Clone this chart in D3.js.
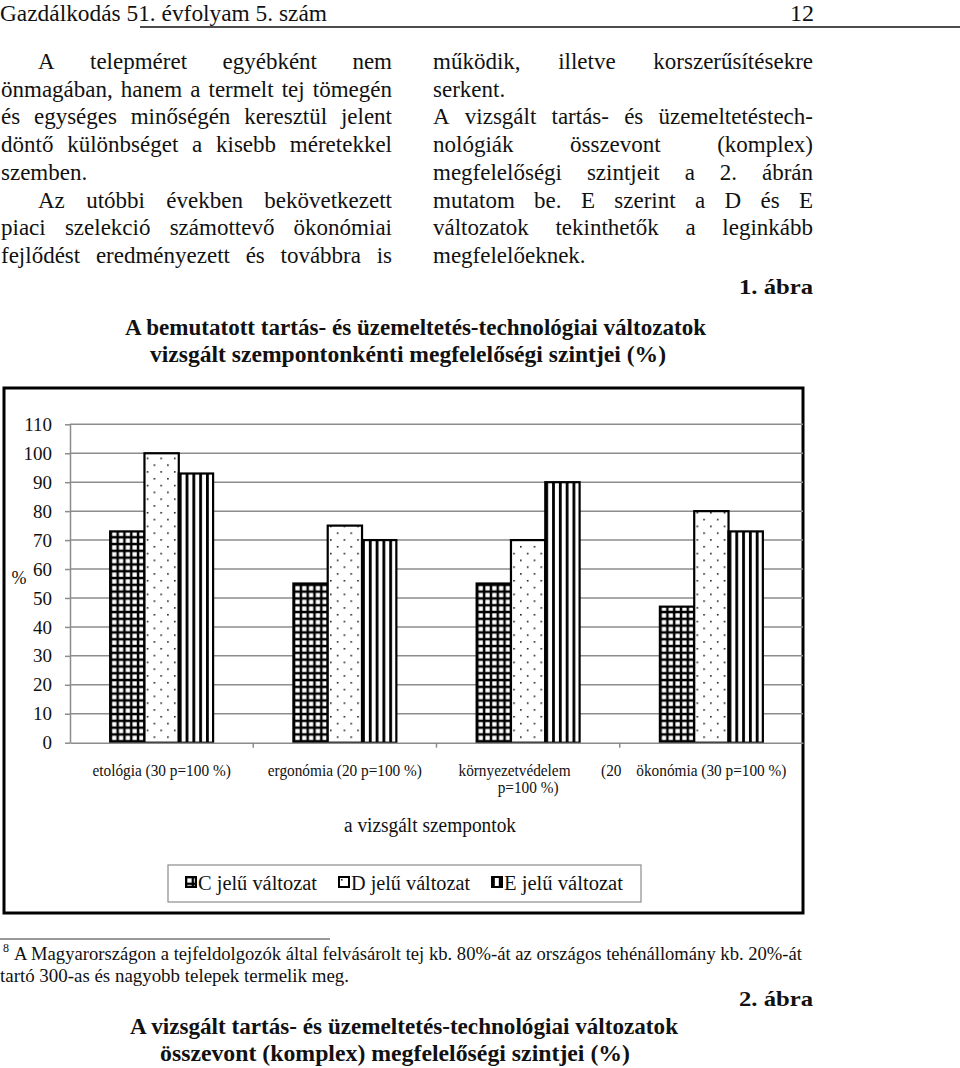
<!DOCTYPE html>
<html><head><meta charset="utf-8">
<script src="https://cdn.jsdelivr.net/npm/d3@7"></script>
<style>
body{margin:0;background:#fff}
svg{display:block}
text{font-family:"Liberation Serif","Times New Roman",serif;fill:#111}
</style>
</head><body>
<svg id="c" width="960" height="1068"></svg>
<script>
// ---------- data ----------
const categories = ["etológia (30 p=100 %)", "ergonómia (20 p=100 %)", "környezetvédelem (20 p=100 %)", "ökonómia (30 p=100 %)"];
const seriesNames = ["C jelű változat", "D jelű változat", "E jelű változat"];
const valuesC = [73, 55, 55, 47];
const valuesD = [100, 75, 70, 80];
const valuesE = [93, 70, 90, 73];
const yTicks = [0, 10, 20, 30, 40, 50, 60, 70, 80, 90, 100, 110];
const yLabel = "%";
const xTitle = "a vizsgált szempontok";
const chartTitle = ["A bemutatott tartás- és üzemeltetés-technológiai változatok", "vizsgált szempontonkénti megfelelőségi szintjei (%)"];

// ---------- page text ----------
const headerText = "Gazdálkodás 51. évfolyam 5. szám";
const pageNo = "12";
const leftCol = [
  ["A telepméret egyébként nem", 1, 1],
  ["önmagában, hanem a termelt tej tömegén", 0, 1],
  ["és egységes minőségén keresztül jelent", 0, 1],
  ["döntő különbséget a kisebb méretekkel", 0, 1],
  ["szemben.", 0, 0],
  ["Az utóbbi években bekövetkezett", 1, 1],
  ["piaci szelekció számottevő ökonómiai", 0, 1],
  ["fejlődést eredményezett és továbbra is", 0, 1]
];
const rightCol = [
  ["működik, illetve korszerűsítésekre", 0, 1],
  ["serkent.", 0, 0],
  ["A vizsgált tartás- és üzemeltetéstech-", 0, 1],
  ["nológiák összevont (komplex)", 0, 1],
  ["megfelelőségi szintjeit a 2. ábrán", 0, 1],
  ["mutatom be. E szerint a D és E", 0, 1],
  ["változatok tekinthetők a leginkább", 0, 1],
  ["megfelelőeknek.", 0, 0]
];
const fig1 = "1. ábra";
const fig2 = "2. ábra";
const footnoteMark = "8";
const footnote = ["A Magyarországon a tejfeldolgozók által felvásárolt tej kb. 80%-át az országos tehénállomány kb. 20%-át", "tartó 300-as és nagyobb telepek termelik meg."];
const title2 = ["A vizsgált tartás- és üzemeltetés-technológiai változatok", "összevont (komplex) megfelelőségi szintjei (%)"];

// ---------- helpers ----------
const svg = d3.select("#c");
const defs = svg.append("defs");

function fitText(g, str, x, y, w, size, opts = {}) {
  const anchor = opts.anchor || "start";
  let xs = x;
  if (anchor === "middle") xs = x - w / 2;
  if (anchor === "end") xs = x - w;
  return g.append("text").attr("x", xs).attr("y", y)
    .attr("font-size", size).attr("font-weight", opts.bold ? "bold" : "normal")
    .attr("textLength", w).attr("lengthAdjust", "spacingAndGlyphs").text(str);
}

function line(g, str, xL, xR, y, size, justify, bold) {
  const words = str.split(" ");
  const tmp = g.append("text").attr("font-size", size).attr("font-weight", bold ? "bold" : "normal");
  const widths = words.map(w => { tmp.text(w); return tmp.node().getComputedTextLength(); });
  tmp.remove();
  const sp = size * 0.25;
  const total = d3.sum(widths);
  const n = words.length;
  let scale = 1;
  const minGap = sp * 0.7;
  if (total + (n - 1) * minGap > xR - xL) scale = (xR - xL - (n - 1) * minGap) / total;
  let gap = sp;
  if (justify && n > 1) gap = (xR - xL - total * scale) / (n - 1);
  let x = xL;
  words.forEach((w, i) => {
    const t = g.append("text").attr("x", x).attr("y", y).attr("font-size", size)
      .attr("font-weight", bold ? "bold" : "normal").text(w);
    if (scale < 1) t.attr("textLength", widths[i] * scale).attr("lengthAdjust", "spacingAndGlyphs");
    x += widths[i] * scale + gap;
  });
}

// ---------- page header & body ----------
const page = svg.append("g");
fitText(page, headerText, 0, 21, 327, 24);
page.append("text").attr("x", 814).attr("y", 21).attr("font-size", 24).attr("text-anchor", "end").text(pageNo);
page.append("line").attr("x1", 140).attr("x2", 960).attr("y1", 27).attr("y2", 27).attr("stroke", "#111").attr("stroke-width", 1.6);

const bodySize = 23, lh = 27.7, y0 = 69;
leftCol.forEach((d, i) => line(page, d[0], d[1] ? 38 : 1, 392, y0 + i * lh, bodySize, d[2]));
rightCol.forEach((d, i) => line(page, d[0], 433, 813, y0 + i * lh, bodySize, d[2]));

fitText(page, fig1, 813, 294, 74, 22, { anchor: "end", bold: true });
fitText(page, chartTitle[0], 125, 335, 581, 24, { bold: true });
fitText(page, chartTitle[1], 150, 362, 516, 24, { bold: true });

// ---------- patterns ----------
const P = 6.8;
const pC = defs.append("pattern").attr("id", "pC").attr("patternUnits", "userSpaceOnUse").attr("width", P).attr("height", P);
pC.append("rect").attr("width", P).attr("height", P).attr("fill", "#000");
pC.append("rect").attr("x", 1.3).attr("y", 1.3).attr("width", P - 2.5).attr("height", P - 2.5).attr("fill", "#fff");
const pD = defs.append("pattern").attr("id", "pD").attr("patternUnits", "userSpaceOnUse").attr("width", 2 * P).attr("height", 2 * P);
pD.append("rect").attr("width", 2 * P).attr("height", 2 * P).attr("fill", "#fff");
pD.append("rect").attr("x", 2).attr("y", 2).attr("width", 1.5).attr("height", 1.5).attr("fill", "#000");
pD.append("rect").attr("x", 2 + P).attr("y", 2 + P).attr("width", 1.5).attr("height", 1.5).attr("fill", "#000");
const pE = defs.append("pattern").attr("id", "pE").attr("patternUnits", "userSpaceOnUse").attr("width", P).attr("height", P);
pE.append("rect").attr("width", P).attr("height", P).attr("fill", "#fff");
pE.append("rect").attr("x", 0).attr("width", 2.8).attr("height", P).attr("fill", "#000");
const fills = ["url(#pC)", "url(#pD)", "url(#pE)"];

// ---------- chart ----------
const chart = svg.append("g");
chart.append("rect").attr("x", 4).attr("y", 388).attr("width", 799).attr("height", 525)
  .attr("fill", "#fff").attr("stroke", "#000").attr("stroke-width", 3);

const x0 = d3.scaleBand().domain(categories).range([70, 803]).paddingInner(0).paddingOuter(0);
const x1 = d3.scaleBand().domain(seriesNames).range([0, x0.bandwidth()]).paddingInner(0).paddingOuter(1.17);
const y = d3.scaleLinear().domain([0, 110]).range([742.7, 424.3]);

// gridlines
chart.append("g").selectAll("line").data(yTicks.filter(d => d > 0)).join("line")
  .attr("x1", 70).attr("x2", 803).attr("y1", d => y(d)).attr("y2", d => y(d))
  .attr("stroke", "#8c8c8c").attr("stroke-width", 1.5);

// y axis
const yAxis = chart.append("g").attr("transform", "translate(70,0)")
  .call(d3.axisLeft(y).tickValues(yTicks).tickSize(5).tickSizeOuter(0).tickPadding(13).tickFormat(d3.format("d")));
yAxis.select(".domain").attr("stroke", "#8c8c8c").attr("stroke-width", 1.5);
yAxis.selectAll(".tick line").attr("stroke", "#8c8c8c").attr("stroke-width", 1.5);
yAxis.selectAll(".tick text").attr("font-size", 19).attr("font-family", "Liberation Serif").attr("fill", "#111");

chart.append("text").attr("x", 19).attr("y", 584).attr("font-size", 18).attr("text-anchor", "middle").text(yLabel);

// bars
const seriesValues = [valuesC, valuesD, valuesE];
const rows = categories.map((c, i) => ({ c, vals: seriesNames.map((s, k) => ({ s, k, v: seriesValues[k][i] })) }));
const grp = chart.append("g").selectAll("g").data(rows).join("g").attr("transform", d => `translate(${x0(d.c)},0)`);
grp.selectAll("rect").data(d => d.vals).join("rect")
  .attr("x", d => x1(d.s)).attr("y", d => y(d.v))
  .attr("width", x1.bandwidth()).attr("height", d => y(0) - y(d.v))
  .attr("fill", d => fills[d.k]).attr("stroke", "#000").attr("stroke-width", 2.2);

// x axis
const xAxis = chart.append("g").attr("transform", `translate(0,${y(0)})`)
  .call(d3.axisBottom(x0).tickSize(0).tickFormat(""));
xAxis.select(".domain").attr("stroke", "#8c8c8c").attr("stroke-width", 1.5);
chart.append("g").selectAll("line").data(categories.slice(1)).join("line")
  .attr("x1", d => x0(d)).attr("x2", d => x0(d)).attr("y1", y(0)).attr("y2", y(0) + 5)
  .attr("stroke", "#8c8c8c").attr("stroke-width", 1.5);

// category labels
const labSize = 17, cf = 0.9, wrapW = 165;
categories.forEach(c => {
  const cx = x0(c) + x0.bandwidth() / 2;
  const tmp = chart.append("text").attr("font-size", labSize).text(c);
  const w = tmp.node().getComputedTextLength() * cf;
  tmp.remove();
  if (w <= wrapW) {
    fitText(chart, c, cx, 776, w, labSize, { anchor: "middle" });
  } else {
    const words = c.split(" ");
    const l1 = words.slice(0, 2).join(" "), l2 = words.slice(2).join(" ");
    const g = chart.append("g").attr("transform", `scale(${cf},1)`);
    const left = x0(c) + 22;
    line(g, l1, left / cf, (left + 163) / cf, 776, labSize, true);
    const t2 = chart.append("text").attr("font-size", labSize).text(l2);
    const w2 = t2.node().getComputedTextLength() * cf; t2.remove();
    fitText(chart, l2, cx, 793, w2, labSize, { anchor: "middle" });
  }
});

fitText(chart, xTitle, 430, 832, 172, 20, { anchor: "middle" });

// legend
chart.append("rect").attr("x", 168).attr("y", 865).attr("width", 473).attr("height", 37)
  .attr("fill", "#fff").attr("stroke", "#8c8c8c").attr("stroke-width", 1.2);
const legX = [186, 339, 492];
const legG = chart.append("g").selectAll("g").data(seriesNames).join("g")
  .attr("transform", (d, i) => `translate(${legX[i]},877)`);
legG.append("rect").attr("width", 10).attr("height", 10).attr("fill", (d, i) => fills[i])
  .attr("stroke", "#000").attr("stroke-width", 2);
legG.each(function (d) { fitText(d3.select(this), d, 12, 13, 119, 20); });

// ---------- footnote & figure 2 caption ----------
page.append("line").attr("x1", 0).attr("x2", 330).attr("y1", 939).attr("y2", 939).attr("stroke", "#333").attr("stroke-width", 1);
page.append("text").attr("x", 3).attr("y", 952).attr("font-size", 12).text(footnoteMark);
fitText(page, footnote[0], 14, 960, 788, 19);
fitText(page, footnote[1], 0, 982, 349, 19);
fitText(page, fig2, 813, 1006, 74, 22, { anchor: "end", bold: true });
fitText(page, title2[0], 130, 1034, 548, 24, { bold: true });
fitText(page, title2[1], 160, 1061, 470, 24, { bold: true });
</script>
</body></html>
